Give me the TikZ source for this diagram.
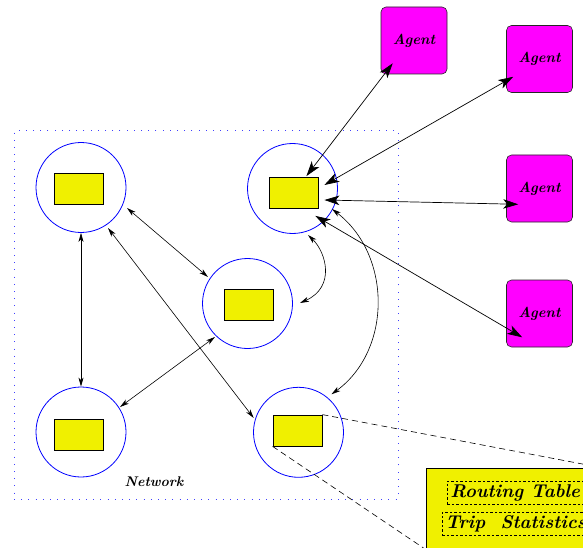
\documentclass[tikz,border=0pt]{standalone}
\usetikzlibrary{arrows.meta}

\definecolor{cellyellow}{RGB}{240,240,0}
\definecolor{agentmag}{RGB}{255,0,255}

\tikzset{
  hostcircle/.style={circle, draw=blue, line width=0.8pt, minimum size=90pt, inner sep=0pt},
  cell/.style={rectangle, draw=black, fill=cellyellow, line width=0.8pt,
               minimum width=49pt, minimum height=31pt, inner sep=0pt},
  agentbox/.style={rectangle, rounded corners=5pt, draw=black!85, fill=agentmag, line width=0.6pt,
                   minimum width=66pt, minimum height=67pt, inner sep=0pt,
                   font=\fontsize{14.5}{16}\selectfont\bfseries\itshape},
  netframe/.style={rectangle, draw=blue!75, line width=1pt, dash pattern=on 1pt off 6.2pt,
                   minimum width=384pt, minimum height=368pt, inner sep=0pt},
  netlabel/.style={font=\fontsize{14}{16}\selectfont\bfseries\itshape, inner sep=0pt},
  tablebox/.style={rectangle, draw=black, fill=cellyellow, line width=0.8pt,
                   minimum width=175pt, minimum height=81pt, inner sep=0pt},
  fieldbox/.style={rectangle, draw=black, dash pattern=on 2.5pt off 2pt, line width=0.6pt,
                   minimum height=23pt, inner xsep=3pt, inner ysep=0pt, anchor=west,
                   font=\fontsize{18.5}{20}\selectfont\bfseries\itshape},
  link/.style={line width=0.6pt,
               {Stealth[length=9pt,width=5pt,inset=2.5pt]}-{Stealth[length=9pt,width=5pt,inset=2.5pt]}},
  agentlink/.style={line width=0.7pt,
               {Stealth[length=15pt,width=9.5pt,inset=4pt]}-{Stealth[length=15pt,width=9.5pt,inset=4pt]}},
  zoomline/.style={line width=0.6pt, dash pattern=on 6pt off 4pt},
}

\begin{document}
\begin{tikzpicture}[x=1pt, y=-1pt]
  \useasboundingbox (0,0) rectangle (583,548);
  \clip (0,0) rectangle (583,548);

  % network region
  \node[netframe] (net) at (206,315) {};
  \node[netlabel] (netname) at (154,482) {Network};

  % hosts
  \node[hostcircle] (c1) at (81,187.5) {};
  \node[hostcircle] (c2) at (292.5,188.5) {};
  \node[hostcircle] (c3) at (247.5,303.5) {};
  \node[hostcircle] (c4) at (81,432) {};
  \node[hostcircle] (c5) at (298.5,432.3) {};

  \node[cell] (r1) at (78.5,188.5) {};
  \node[cell] (r2) at (293.5,193) {};
  \node[cell] (r3) at (248.5,305) {};
  \node[cell] (r4) at (78.5,434.5) {};
  \node[cell] (r5) at (297.5,430.5) {};

  % agents
  \node[agentbox] (a1) at (414,40.5) {Agent};
  \node[agentbox] (a2) at (539.5,59) {Agent};
  \node[agentbox] (a3) at (539.5,188.5) {Agent};
  \node[agentbox] (a4) at (539.5,313.5) {Agent};

  % links between hosts
  \draw[link] ([shift={(46,20.5)}]c1.center) -- ([shift={(-39.5,-26.5)}]c3.center);
  \draw[link] (c1.south) -- (c4.north);
  \draw[link] ([shift={(27,40.5)}]c1.center) -- ([shift={(-44.8,-14.3)}]c5.center);
  \draw[link] ([shift={(39,-25)}]c4.center) -- ([shift={(-32.5,33.5)}]c3.center);
  \draw[link] ([shift={(15.5,46.5)}]c2.center) .. controls +(18,17) and +(36,-16) .. ([shift={(52.5,-0.5)}]c3.center);
  \draw[link] ([shift={(39.5,20.5)}]c2.center) .. controls +(60,46) and +(60.5,-44) .. ([shift={(33,-38)}]c5.center);

  % links between agents and host
  \draw[agentlink] ([shift={(-12,-1)}]r2.north east) -- ([shift={(12,-11)}]a1.south west);
  \draw[agentlink] ([shift={(6,-8)}]r2.east) -- ([shift={(7,-16)}]a2.south west);
  \draw[agentlink] ([shift={(6,7)}]r2.east) -- ([shift={(12,-18)}]a3.south west);
  \draw[agentlink] ([shift={(-3,7)}]r2.south east) -- ([shift={(16,-10)}]a4.south west);

  % host detail
  \node[tablebox] (tbl) at (513.5,508.5) {};
  \draw[zoomline] (r5.north east) -- (tbl.north east);
  \draw[zoomline] (r5.south west) -- (tbl.south west);
  \node[fieldbox] (routing) at (447,492.5) {Routing Table};
  \node[fieldbox] (trips) at (442,524) {Trip~ Statistics};
\end{tikzpicture}
\end{document}
